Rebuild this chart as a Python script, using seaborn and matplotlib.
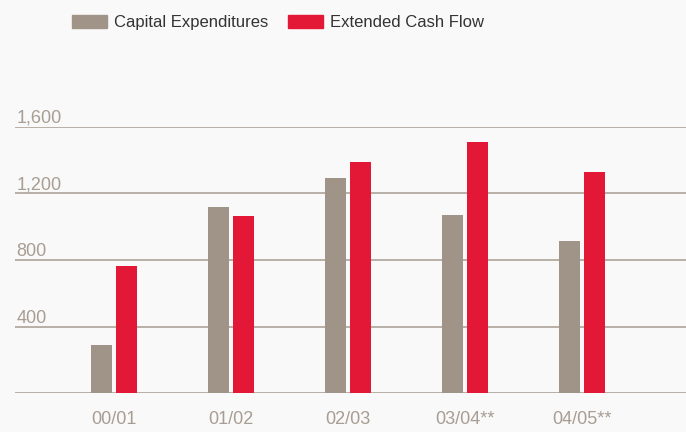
import pandas as pd
import matplotlib.pyplot as plt
import seaborn as sns
from matplotlib.patches import Patch

years = ["00/01", "01/02", "02/03", "03/04**", "04/05**"]
capex = [290, 1118, 1292, 1070, 914]
cash_flow = [764, 1064, 1388, 1508, 1328]
series = ["Capital Expenditures", "Extended Cash Flow"]
y_ticks = [0, 400, 800, 1200, 1600]

grey = "#a09488"
red = "#e31837"
text_col = "#a89d92"
bg = "#f9f9f9"

df = pd.DataFrame({
    "year": years * 2,
    "series": [series[0]] * len(years) + [series[1]] * len(years),
    "value": capex + cash_flow,
})

sns.set_theme(style="white")
plt.rcParams["font.family"] = ["Liberation Sans", "DejaVu Sans"]

fig = plt.figure(figsize=(6.86, 4.32), dpi=100, facecolor=bg)
ax = fig.add_axes([15 / 686, (432 - 393.3) / 432, 1 - 15 / 686, (393.3 - 126.7) / 432])
ax.set_facecolor(bg)

sns.barplot(data=df, x="year", y="value", hue="series", palette=[grey, red],
            width=0.427, gap=0.16, saturation=1, linewidth=0, legend=False, ax=ax)

ax.set_xlim(-0.846, 4.89)
ax.set_ylim(0, 1600)
ax.set_yticks(y_ticks)
ax.set_yticklabels(["" if v == 0 else f"{v:,}" for v in y_ticks])
ax.set_xlabel("")
ax.set_ylabel("")
for s in ax.spines.values():
    s.set_visible(False)
ax.grid(axis="y", color="#b8afa6", linewidth=1.4)
ax.set_axisbelow(True)
ax.tick_params(axis="both", length=0, labelsize=13, labelcolor=text_col)
ax.tick_params(axis="y", pad=-1)
for lab in ax.get_yticklabels():
    lab.set_horizontalalignment("left")
    lab.set_verticalalignment("bottom")
ax.tick_params(axis="x", pad=13)

handles = [Patch(color=grey), Patch(color=red)]
fig.legend(handles, series, loc="upper left", bbox_to_anchor=(57 / 686, 1.0),
           ncol=2, frameon=False, fontsize=12, labelcolor="#333333",
           handlelength=2.1, handleheight=0.8, handletextpad=0.42,
           columnspacing=1.2, borderaxespad=0.5)

fig.savefig("out.png", dpi=100, facecolor=bg)
